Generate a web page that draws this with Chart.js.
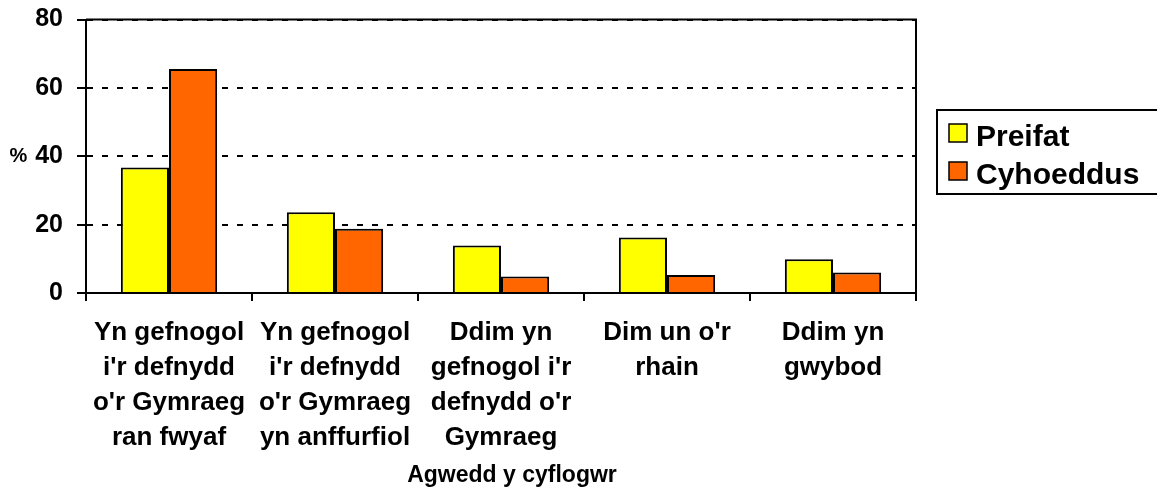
<!DOCTYPE html>
<html>
<head>
<meta charset="utf-8">
<script src="https://cdn.jsdelivr.net/npm/chart.js@4/dist/chart.umd.min.js"></script>
<style>
  html, body { margin: 0; padding: 0; background: #fff; }
  #wrap { width: 1157px; height: 488px; position: relative; }
</style>
</head>
<body>
<div id="wrap"><canvas id="chart"></canvas></div>
<script>
// categorïau (llinellau wedi'u torri fel yn y llun)
const categories = [
  ['Yn gefnogol', "i'r defnydd", "o'r Gymraeg", 'ran fwyaf'],
  ['Yn gefnogol', "i'r defnydd", "o'r Gymraeg", 'yn anffurfiol'],
  ['Ddim yn', "gefnogol i'r", "defnydd o'r", 'Gymraeg'],
  ["Dim un o'r", 'rhain'],
  ['Ddim yn', 'gwybod']
];
const seriesNames = ['Preifat', 'Cyhoeddus'];
const preifat = [36.7, 23.6, 13.9, 16.2, 9.9];
const cyhoeddus = [65.5, 18.8, 4.8, 5.3, 6.0];
const yTicks = [0, 20, 40, 60, 80];
const xTitle = 'Agwedd y cyflogwr';
const yTitle = '%';

const FONT = "'Liberation Sans', Arial, sans-serif";

// llinellau ffrâm, teitlau a'r allwedd
const extras = {
  id: 'extras',
  afterDraw(chart) {
    const { ctx, chartArea: a } = chart;
    ctx.save();
    ctx.strokeStyle = '#000';
    ctx.lineWidth = 2;
    ctx.beginPath();
    ctx.moveTo(a.left, a.top);
    ctx.lineTo(a.right, a.top);
    ctx.lineTo(a.right, a.bottom);
    ctx.stroke();

    // "%" wrth ymyl yr echel
    ctx.fillStyle = '#000';
    ctx.font = 'bold 20px ' + FONT;
    ctx.textAlign = 'center';
    ctx.textBaseline = 'middle';
    ctx.fillText(yTitle, 18.5, (a.top + a.bottom) / 2);

    // teitl yr echel x
    ctx.font = 'bold 23px ' + FONT;
    ctx.fillText(xTitle, 512, 476);

    // allwedd
    const boxX = a.right + 21, boxY = 110, boxH = 84;
    ctx.lineWidth = 2;
    ctx.strokeRect(boxX, boxY, 1200 - boxX, boxH);
    ctx.font = 'bold 30px ' + FONT;
    ctx.textAlign = 'left';
    ctx.textBaseline = 'alphabetic';
    chart.data.datasets.forEach((ds, i) => {
      const cy = boxY + 23 + i * 38;
      ctx.fillStyle = ds.backgroundColor;
      ctx.fillRect(boxX + 12, cy - 9, 18, 18);
      ctx.lineWidth = 1.5;
      ctx.strokeRect(boxX + 12, cy - 9, 18, 18);
      ctx.fillStyle = '#000';
      ctx.fillText(ds.label, boxX + 39, cy + 12.5);
    });
    ctx.restore();
  }
};

new Chart(document.getElementById('chart'), {
  type: 'bar',
  data: {
    labels: categories,
    datasets: [
      { label: seriesNames[0], data: preifat, backgroundColor: '#FFFF00' },
      { label: seriesNames[1], data: cyhoeddus, backgroundColor: '#FF6600' }
    ]
  },
  options: {
    responsive: true,
    maintainAspectRatio: false,
    animation: false,
    layout: { padding: { top: 0, right: 241, bottom: 0, left: 0 } },
    datasets: {
      bar: {
        borderColor: '#000',
        borderWidth: 2,
        categoryPercentage: 0.58,
        barPercentage: 1.0
      }
    },
    plugins: {
      legend: { display: false },
      tooltip: { enabled: false }
    },
    scales: {
      x: {
        afterFit: scale => { scale.height = 488 - 293; },
        grid: {
          offset: true,
          drawOnChartArea: false,
          color: '#000',
          lineWidth: 2,
          tickLength: 8
        },
        border: { color: '#000', width: 2 },
        ticks: {
          color: '#000',
          padding: 14,
          maxRotation: 0,
          autoSkip: false,
          font: { family: FONT, size: 26, weight: 'bold', lineHeight: 1.35 }
        }
      },
      y: {
        min: 0,
        max: 80,
        afterFit: scale => { scale.width = 86; },
        afterBuildTicks: scale => { scale.ticks = yTicks.map(v => ({ value: v })); },
        grid: {
          color: '#000',
          lineWidth: 2,
          tickLength: 9
        },
        border: { color: '#000', width: 2, dash: [6, 9] },
        ticks: {
          color: '#000',
          padding: 14,
          // lineHeight bach fel bod y plot yn dechrau'n agos at y brig
          font: { family: FONT, size: 25, weight: 'bold', lineHeight: 0.44 }
        }
      }
    }
  },
  plugins: [extras]
});
</script>
</body>
</html>
